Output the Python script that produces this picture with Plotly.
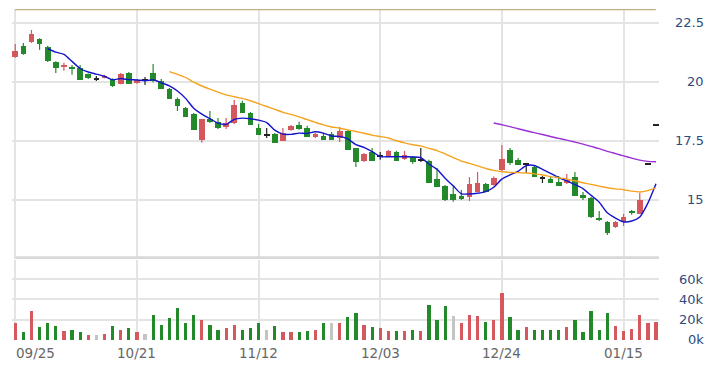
import plotly.graph_objects as go

# ---------------- data ----------------
tick_idx = [0, 15, 30, 45, 60, 75]
tick_labels = ["09/25", "10/21", "11/12", "12/03", "12/24", "01/15"]

opens = [21.06, 21.53, 21.69, 21.82, 21.48, 20.85, 20.64, 20.64, 20.59, 20.34,
         20.15, 20.17, 20.13, 19.92, 20.38, 19.96, 20.08, 20.38, 20.04, 19.70,
         19.28, 18.90, 18.64, 17.54, 18.43, 18.31, 18.09, 18.26, 19.11, 18.69,
         18.05, 17.75, 17.80, 17.50, 17.97, 18.18, 18.05, 17.67, 17.71, 17.80,
         17.63, 17.92, 17.20, 16.65, 17.03, 16.86, 16.86, 17.03, 16.74, 16.82,
         16.72, 16.65, 15.89, 15.59, 15.25, 15.17, 15.13, 15.34, 15.68, 15.64,
         16.27, 17.12, 16.70, 16.53, 16.40, 15.93, 15.89, 15.76, 15.72, 15.97,
         15.21, 15.08, 14.24, 14.07, 13.86, 14.07, 14.53, 14.41, 16.52, 18.17]
highs = [21.61, 21.65, 22.20, 21.85, 21.53, 20.88, 20.81, 20.72, 20.72, 20.36,
         20.25, 20.30, 20.15, 20.38, 20.42, 20.12, 20.21, 20.76, 20.13, 19.74,
         19.34, 18.94, 18.68, 18.43, 18.77, 18.47, 18.47, 19.24, 19.20, 18.73,
         18.22, 18.05, 17.84, 18.05, 18.18, 18.31, 18.14, 17.84, 17.84, 17.88,
         18.09, 17.96, 17.20, 16.99, 17.20, 17.03, 17.12, 17.08, 17.08, 16.86,
         17.20, 16.70, 16.36, 15.64, 15.55, 15.42, 15.97, 16.19, 15.72, 16.00,
         17.33, 17.20, 16.78, 16.55, 16.44, 16.02, 16.02, 16.02, 16.10, 16.19,
         15.34, 15.13, 14.53, 14.11, 14.11, 14.41, 14.58, 15.30, 16.52, 18.17]
lows = [21.02, 21.15, 21.65, 21.36, 20.85, 20.38, 20.47, 20.30, 20.10, 20.12,
        20.04, 20.15, 19.79, 19.90, 19.92, 19.92, 19.87, 19.98, 19.70, 19.28,
        18.77, 18.52, 17.97, 17.42, 18.26, 18.01, 18.01, 18.22, 18.69, 18.18,
        17.75, 17.63, 17.42, 17.50, 17.93, 17.97, 17.67, 17.63, 17.54, 17.54,
        17.46, 17.12, 16.40, 16.61, 16.65, 16.70, 16.82, 16.65, 16.70, 16.53,
        16.61, 15.72, 15.55, 14.96, 14.92, 15.00, 14.96, 15.34, 15.34, 15.60,
        16.23, 16.48, 16.50, 16.15, 15.97, 15.72, 15.72, 15.59, 15.68, 15.17,
        15.00, 14.24, 14.11, 13.52, 13.82, 13.90, 14.37, 14.41, 16.52, 18.17]
closes = [21.31, 21.19, 22.03, 21.61, 20.89, 20.59, 20.72, 20.55, 20.10, 20.15,
          20.15, 20.25, 19.83, 20.34, 19.92, 20.08, 20.08, 20.04, 19.70, 19.28,
          18.98, 18.52, 17.97, 18.43, 18.31, 18.05, 18.26, 19.03, 18.69, 18.18,
          17.75, 17.75, 17.42, 17.84, 18.14, 18.01, 17.67, 17.80, 17.54, 17.54,
          17.92, 17.12, 16.61, 16.95, 16.65, 16.86, 17.08, 16.65, 16.91, 16.61,
          16.72, 15.72, 15.55, 15.00, 15.00, 15.04, 15.68, 15.72, 15.34, 15.93,
          16.74, 16.57, 16.50, 16.53, 15.97, 15.93, 15.72, 15.59, 15.85, 15.17,
          15.08, 14.28, 14.15, 13.60, 14.07, 14.28, 14.45, 15.02, 16.52, 18.17]
volumes_k = [16.4, 7.5, 28.5, 13.1, 16.4, 14.1, 8.9, 9.8, 7.5, 4.9,
             4.9, 6.2, 13.8, 9.8, 11.5, 7.5, 6.2, 24.6, 14.8, 21.3,
             31.2, 16.4, 24.6, 19.7, 14.8, 9.8, 11.5, 14.8, 9.8, 11.5,
             16.4, 9.8, 13.8, 7.5, 7.5, 7.5, 8.9, 9.8, 16.4, 16.4,
             16.4, 22.3, 26.2, 14.8, 12.5, 11.5, 8.9, 8.9, 8.9, 9.8,
             8.9, 34.4, 19.7, 33.5, 23.6, 16.4, 24.6, 23.6, 17.4, 19.7,
             45.9, 22.3, 9.8, 12.5, 9.8, 9.8, 9.8, 9.8, 12.5, 19.7,
             7.5, 28.5, 9.8, 26.2, 13.8, 9.2, 10.5, 24.6, 16.4, 17.4]

price_ticks = [15, 17.5, 20, 22.5]
price_tick_labels = ["15", "17.5", "20", "22.5"]
vol_ticks_k = [0, 20, 40, 60]
ma_periods = [5, 20, 60]

# ---------------- derived ----------------
n = len(closes)
idx = list(range(n))
RED, GREEN, BLACK, GRAY = "#d4585e", "#23892b", "#222222", "#c4c4c4"


def ma(k):
    return [sum(closes[i - k + 1:i + 1]) / k if i >= k - 1 else None for i in range(n)]


cdir = ["u" if c > o else ("d" if c < o else "f") for o, c in zip(opens, closes)]
ccol = {"u": RED, "d": GREEN, "f": BLACK}

body_base, body_len, body_col = [], [], []
for o, c, d in zip(opens, closes, cdir):
    if d == "f":
        body_base.append(c - 0.035)
        body_len.append(0.07)
    else:
        body_base.append(min(o, c))
        body_len.append(abs(c - o))
    body_col.append(ccol[d])

vcol = []
for i in range(n):
    if i == 0 or closes[i] > closes[i - 1]:
        vcol.append(RED)
    elif closes[i] < closes[i - 1]:
        vcol.append(GREEN)
    else:
        vcol.append(GRAY)

fig = go.Figure()

# wicks
for d in ["u", "d", "f"]:
    wx, wy = [], []
    for i in range(n):
        if cdir[i] == d and highs[i] > lows[i]:
            wx += [i, i, None]
            wy += [lows[i], highs[i], None]
    fig.add_trace(go.Scatter(x=wx, y=wy, mode="lines", line=dict(color=ccol[d], width=1.2),
                             hoverinfo="skip", showlegend=False, xaxis="x", yaxis="y"))

# bodies
fig.add_trace(go.Bar(x=idx, y=body_len, base=body_base, width=0.7,
                     marker=dict(color=body_col, line=dict(width=0)),
                     showlegend=False, xaxis="x", yaxis="y"))

# moving averages
ma_colors = {5: "#1414c8", 20: "#f5a31e", 60: "#9b2fd6"}
for k in ma_periods:
    fig.add_trace(go.Scatter(x=idx, y=ma(k), mode="lines",
                             line=dict(color=ma_colors[k], width=1.4, shape="spline", smoothing=0.6),
                             showlegend=False, xaxis="x", yaxis="y"))

# volume
fig.add_trace(go.Bar(x=idx, y=[v * 1000 for v in volumes_k], width=0.4,
                     marker=dict(color=vcol, line=dict(width=0)),
                     showlegend=False, xaxis="x", yaxis="y2"))

GRID = "#e4e4e4"
p_lo, p_hi = 12.5, 23.09
# the page body adds an 8px offset, so the figure is sized/margined to compensate
fig.update_layout(
    width=719, height=366,
    margin=dict(l=4, r=68, t=1, b=34),
    paper_bgcolor="white", plot_bgcolor="white",
    barmode="overlay", bargap=0,
    showlegend=False,
    xaxis=dict(range=[-0.4, 79.37], tickvals=tick_idx, showticklabels=False, ticks="",
               showgrid=True, gridcolor=GRID, gridwidth=2, zeroline=False, anchor="y2",
               fixedrange=True),
    yaxis=dict(domain=[0.2447, 1], range=[p_lo, p_hi], tickvals=price_ticks,
               showticklabels=False, ticks="", showgrid=True, gridcolor=GRID, gridwidth=2,
               zeroline=False, anchor="x"),
    yaxis2=dict(domain=[0, 0.2417], range=[0, 78800], tickvals=[v * 1000 for v in vol_ticks_k[1:]],
                showticklabels=False, ticks="", showgrid=True, gridcolor=GRID, gridwidth=2,
                zeroline=False, anchor="x"),
    font=dict(family="DejaVu Sans", size=13),
)

# pane borders
fig.add_shape(type="line", xref="paper", yref="y", x0=0.005, x1=0.995, y0=p_hi - 0.02, y1=p_hi - 0.02,
              line=dict(color="#bfae8a", width=1.5))
fig.add_shape(type="line", xref="paper", yref="y", x0=0.005, x1=1, y0=p_lo + 0.05, y1=p_lo + 0.05,
              line=dict(color="#d8d8d8", width=3))

annotations = []
for i, (ti, tl) in enumerate(zip(tick_idx, tick_labels)):
    annotations.append(dict(x=ti, xref="x", y=0, yref="paper", text=tl, showarrow=False,
                            xanchor="left" if i == 0 else "center", xshift=-1.5 if i == 0 else 0,
                            yanchor="middle", yshift=-13,
                            font=dict(color="#666666", size=13.5, family="DejaVu Sans")))
for v, t in zip(price_ticks, price_tick_labels):
    annotations.append(dict(x=1, xref="paper", y=v, yref="y", text=t, showarrow=False,
                            xanchor="right", xshift=47, yanchor="middle",
                            font=dict(color="#2f4b7c", size=13, family="DejaVu Sans")))
for v in vol_ticks_k:
    annotations.append(dict(x=1, xref="paper", y=v * 1000, yref="y2", text=f"{v}k", showarrow=False,
                            xanchor="right", xshift=47, yanchor="middle",
                            font=dict(color="#2f4b7c", size=13, family="DejaVu Sans")))
fig.update_layout(annotations=annotations)

fig.write_html("out.html")
